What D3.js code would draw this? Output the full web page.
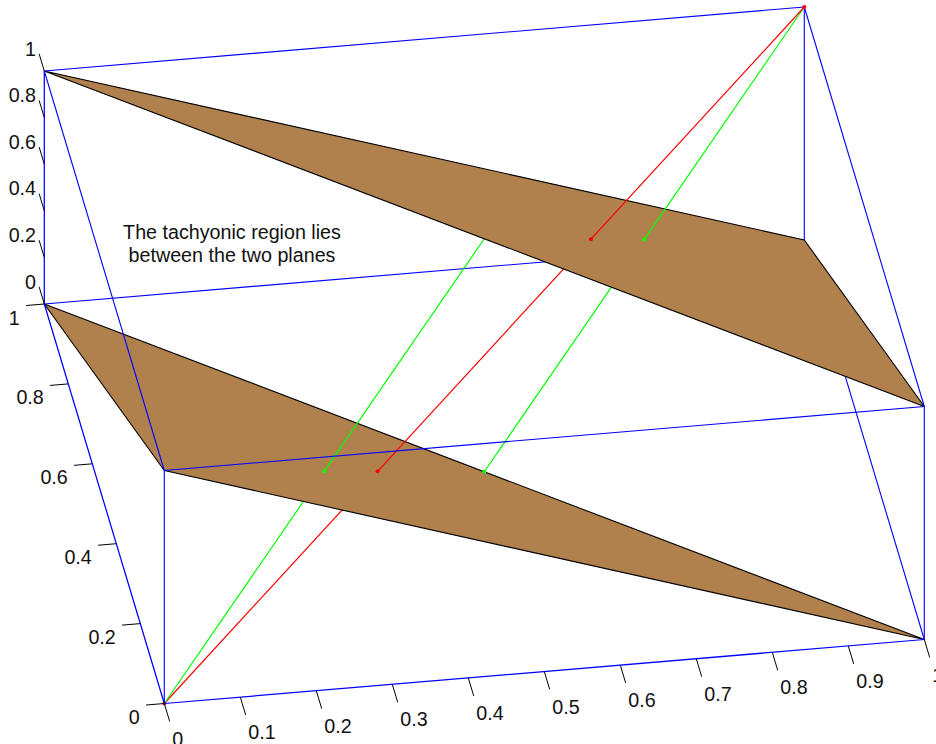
<!DOCTYPE html>
<html>
<head>
<meta charset="utf-8">
<script src="https://cdn.jsdelivr.net/npm/d3@7"></script>
<style>
html, body { margin: 0; padding: 0; background: #fff; }
svg { display: block; }
text { font-family: "Liberation Sans", Arial, sans-serif; font-size: 19.7px; fill: #111; }
</style>
</head>
<body>
<svg id="chart" width="936" height="744"></svg>
<script>
var xTicks = [0, 0.1, 0.2, 0.3, 0.4, 0.5, 0.6, 0.7, 0.8, 0.9, 1];
var yTicks = [0, 0.2, 0.4, 0.6, 0.8, 1];
var zTicks = [0, 0.2, 0.4, 0.6, 0.8, 1];

// the two planes x+y+z=1 and x+y+z=2
var lowerPlane = [[0, 1, 0], [0, 0, 1], [1, 0, 0]];
var upperPlane = [[0, 1, 1], [1, 1, 0], [1, 0, 1]];

// box edges, split by what they are painted behind
var backEdges = [
    [[0, 1, 0], [1, 1, 0]],
    [[1, 1, 0], [1, 0, 0]]
];
var frontEdges = [
    [[0, 0, 0], [0, 0, 1]],
    [[0, 0, 1], [1, 0, 1]],
    [[1, 0, 1], [1, 0, 0]],
    [[0, 0, 1], [0, 1, 1]],
    [[0, 1, 1], [1, 1, 1]],
    [[1, 1, 1], [1, 1, 0]],
    [[1, 1, 1], [1, 0, 1]]
];
var axisEdges = [
    [[0, 0, 0], [1, 0, 0]],
    [[0, 0, 0], [0, 1, 0]],
    [[0, 1, 0], [0, 1, 1]]
];

// red and green rays, cut where they pass through the planes
var redBelow = [[0, 0, 0], [1 / 3, 1 / 3, 1 / 3]];
var redBetween = [[1 / 3, 1 / 3, 1 / 3], [2 / 3, 2 / 3, 2 / 3]];
var redAbove = [[2 / 3, 2 / 3, 2 / 3], [1, 1, 1]];
var greenBelow = [[0, 0, 0], [0.25, 0.25, 0.5]];
var greenBetween = [
    [[0.25, 0.25, 0.5], [0.5, 0.5, 1]],
    [[0.5, 0.5, 0], [0.75, 0.75, 0.5]]
];
var greenAbove = [[0.75, 0.75, 0.5], [1, 1, 1]];
var redDots = [[0, 0, 0], [1 / 3, 1 / 3, 1 / 3], [2 / 3, 2 / 3, 2 / 3], [1, 1, 1]];
var greenDots = [[0.25, 0.25, 0.5], [0.5, 0.5, 0], [0.75, 0.75, 0.5]];

var note = ["The tachyonic region lies", "between the two planes"];

var BROWN = "#b0804d";
var BLUE = "#0000ff";
var RED = "#ff0000";
var GREEN = "#00ff00";

// fixed oblique view: each data axis gets its own pixel scales
var originX = 164.3, originY = 703.5;
var xToH = d3.scaleLinear().domain([0, 1]).range([0, 760]);
var xToV = d3.scaleLinear().domain([0, 1]).range([0, -64]);
var yToH = d3.scaleLinear().domain([0, 1]).range([0, -120]);
var yToV = d3.scaleLinear().domain([0, 1]).range([0, -399.5]);
var zToV = d3.scaleLinear().domain([0, 1]).range([0, -233]);

function px(p) { return originX + xToH(p[0]) + yToH(p[1]); }
function py(p) { return originY + xToV(p[0]) + yToV(p[1]) + zToV(p[2]); }

var svg = d3.select("#chart");
var path = d3.line().x(px).y(py);

function drawLines(list, color, width) {
    svg.append("g").selectAll("path").data(list).enter().append("path")
        .attr("d", path)
        .attr("fill", "none")
        .attr("stroke", color)
        .attr("stroke-width", width);
}
function drawPlane(points) {
    svg.append("path")
        .attr("d", path(points) + "Z")
        .attr("fill", BROWN)
        .attr("stroke", "#000")
        .attr("stroke-width", 1.1)
        .attr("stroke-linejoin", "round");
}
function drawDots(list, color) {
    svg.append("g").selectAll("circle").data(list).enter().append("circle")
        .attr("cx", px).attr("cy", py).attr("r", 2)
        .attr("fill", color);
}

// painter's order, back to front
drawLines([redBelow], RED, 1.2);
drawLines([greenBelow], GREEN, 1.2);
drawPlane(lowerPlane);
drawLines(backEdges, BLUE, 1.1);
drawLines([redBetween], RED, 1.2);
drawLines(greenBetween, GREEN, 1.2);
drawDots(greenDots.slice(0, 2), GREEN);
drawDots(redDots.slice(0, 2), RED);
drawPlane(upperPlane);
drawLines(frontEdges, BLUE, 1.1);
drawLines(axisEdges, BLUE, 1.25);
drawLines([greenAbove], GREEN, 1.2);
drawLines([redAbove], RED, 1.2);
drawDots(greenDots.slice(2), GREEN);
drawDots(redDots.slice(2), RED);

// ticks
var ticks = svg.append("g").attr("stroke", "#000").attr("stroke-width", 1);
ticks.selectAll("line.x").data(xTicks).enter().append("line")
    .attr("x1", function (d) { return px([d, 0, 0]); })
    .attr("y1", function (d) { return py([d, 0, 0]); })
    .attr("x2", function (d) { return px([d, -0.045, 0]); })
    .attr("y2", function (d) { return py([d, -0.045, 0]); });
ticks.selectAll("line.y").data(yTicks).enter().append("line")
    .attr("x1", function (d) { return px([0, d, 0]); })
    .attr("y1", function (d) { return py([0, d, 0]); })
    .attr("x2", function (d) { return px([-0.024, d, 0]); })
    .attr("y2", function (d) { return py([-0.024, d, 0]); });
ticks.selectAll("line.z").data(zTicks).enter().append("line")
    .attr("x1", function (d) { return px([0, 1, d]); })
    .attr("y1", function (d) { return py([0, 1, d]); })
    .attr("x2", function (d) { return px([0, 1.043, d]); })
    .attr("y2", function (d) { return py([0, 1.043, d]); });

// tick labels
svg.append("g").selectAll("text").data(xTicks).enter().append("text")
    .attr("x", function (d) { return px([d, 0, 0]) + 8; })
    .attr("y", function (d) { return py([d, 0, 0]) + 42; })
    .text(function (d) { return d; });
svg.append("g").selectAll("text").data(yTicks).enter().append("text")
    .attr("text-anchor", "end")
    .attr("x", function (d) { return px([0, d, 0]) - 24.5; })
    .attr("y", function (d) { return py([0, d, 0]) + 20.5; })
    .text(function (d) { return d; });
svg.append("g").selectAll("text").data(zTicks).enter().append("text")
    .attr("text-anchor", "end")
    .attr("x", 36)
    .attr("y", function (d) { return py([0, 1, d]) - 15.5; })
    .text(function (d) { return d; });

svg.append("g").selectAll("text").data(note).enter().append("text")
    .attr("text-anchor", "middle")
    .attr("x", 232)
    .attr("y", function (d, i) { return 239 + i * 23; })
    .text(function (d) { return d; });
</script>
</body>
</html>
